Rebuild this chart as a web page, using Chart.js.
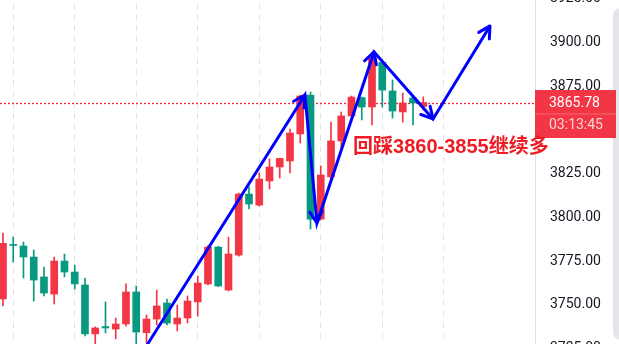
<!DOCTYPE html>
<html>
<head>
<meta charset="utf-8">
<title>Candles</title>
<style>
  html, body { margin: 0; padding: 0; background: #fff; overflow: hidden; }
  #wrap { position: absolute; left: 0; top: -30px; width: 619px; height: 404px; }
</style>
</head>
<body>
<div id="wrap"><canvas id="kChart"></canvas></div>
<script src="https://cdn.jsdelivr.net/npm/chart.js@4.4.1/dist/chart.umd.min.js"></script>
<script>
// OHLC, one entry per candle
const opens  = [3753.4, 3784.6, 3783.7, 3777.4, 3766.0, 3756.2, 3775.1, 3768.8, 3761.4, 3733.4,
                3737.6, 3736.2, 3739.1, 3757.4, 3734.1, 3741.9, 3751.1, 3739.1, 3742.5, 3751.7,
                3762.0, 3783.1, 3758.5, 3778.5, 3813.4, 3807.1, 3820.9, 3828.9, 3832.3, 3847.8,
                3870.1, 3799.1, 3823.2, 3843.8, 3858.1, 3868.6, 3863.2, 3888.7, 3872.4, 3860.4,
                3868.4, 3863.5];
const highs  = [3791.1, 3788.8, 3786.0, 3781.4, 3771.7, 3777.4, 3779.1, 3772.8, 3765.4, 3737.4,
                3751.7, 3742.5, 3762.0, 3760.8, 3744.2, 3758.5, 3753.4, 3749.9, 3755.1, 3766.5,
                3784.0, 3783.5, 3788.8, 3814.0, 3817.4, 3825.5, 3833.5, 3834.0, 3850.6, 3870.1,
                3871.8, 3829.5, 3854.6, 3860.4, 3869.5, 3868.9, 3894.7, 3889.0, 3878.7, 3871.2,
                3868.9, 3869.0];
const lows   = [3749.4, 3774.5, 3765.4, 3752.2, 3755.1, 3750.5, 3766.0, 3759.1, 3732.2, 3726.0,
                3733.9, 3730.5, 3737.9, 3726.5, 3728.2, 3738.5, 3738.5, 3735.1, 3739.6, 3743.6,
                3761.5, 3760.5, 3758.0, 3777.9, 3804.9, 3806.5, 3816.3, 3822.6, 3825.5, 3842.6,
                3793.4, 3798.5, 3822.0, 3839.8, 3857.5, 3855.8, 3852.9, 3863.2, 3856.9, 3854.6,
                3852.9, 3861.5];
const closes = [3785.2, 3784.0, 3777.4, 3764.2, 3756.8, 3775.1, 3768.8, 3762.0, 3733.4, 3736.8,
                3736.8, 3739.1, 3757.4, 3734.5, 3741.9, 3749.4, 3739.6, 3742.5, 3752.2, 3762.5,
                3783.1, 3760.8, 3779.1, 3813.4, 3807.7, 3822.0, 3828.9, 3833.8, 3848.3, 3869.5,
                3799.1, 3824.3, 3843.8, 3858.1, 3868.9, 3863.2, 3891.2, 3872.9, 3860.9, 3865.5,
                3865.5, 3865.78];

const priceTicks = [3725, 3750, 3775, 3800, 3825, 3850, 3875, 3900, 3925];
const gridIdx = [4, 10, 16, 22, 28, 34, 40];
const lastPrice = 3865.78;
const countdown = '03:13:45';

// hand drawn zigzag arrow (candle index, price)
const arrowX = [13.13, 29.46, 30.63, 36.2, 41.95, 47.51];
const arrowY = [3718.5, 3870.1, 3796.9, 3894.7, 3856.4, 3909.6];

const noteText = '回踩3860-3855继续多';
const noteAt = { x: 34.15, y: 3840.3 };

const UP = '#f23645';
const DOWN = '#089981';

const candleColors = opens.map((o, i) => closes[i] >= o ? UP : DOWN);

const overlay = {
    id: 'overlay',
    beforeDatasetsDraw(chart) {
        const { ctx, chartArea, scales } = chart;
        const py = Math.round(scales.y.getPixelForValue(lastPrice)) + 0.5;
        ctx.save();
        ctx.strokeStyle = '#f7253a';
        ctx.lineWidth = 1.3;
        ctx.setLineDash([2, 2]);
        ctx.beginPath();
        ctx.moveTo(chartArea.left, py);
        ctx.lineTo(chartArea.right, py);
        ctx.stroke();
        ctx.restore();
    },
    afterDatasetsDraw(chart) {
        // open arrow heads at every vertex of the zigzag
        const { ctx } = chart;
        const pts = chart.getDatasetMeta(0).data;
        ctx.save();
        ctx.strokeStyle = '#0000ff';
        ctx.lineWidth = 3;
        ctx.lineCap = 'round';
        ctx.lineJoin = 'round';
        for (let k = 1; k < pts.length; k++) {
            const a = pts[k - 1], b = pts[k];
            const ang = Math.atan2(b.y - a.y, b.x - a.x);
            const len = 13, spread = 0.5;
            ctx.beginPath();
            ctx.moveTo(b.x - len * Math.cos(ang - spread), b.y - len * Math.sin(ang - spread));
            ctx.lineTo(b.x, b.y);
            ctx.lineTo(b.x - len * Math.cos(ang + spread), b.y - len * Math.sin(ang + spread));
            ctx.stroke();
        }
        ctx.restore();
    },
    afterDraw(chart) {
        const { ctx, chartArea, scales } = chart;
        const py = scales.y.getPixelForValue(lastPrice);
        const left = chartArea.right;
        ctx.save();

        // grey edge of the panel
        ctx.fillStyle = '#e4e5eb';
        ctx.beginPath();
        if (ctx.roundRect) ctx.roundRect(613, 38, 20, 332, 8); else ctx.rect(613, 38, 20, 332);
        ctx.fill();

        // last price label
        ctx.fillStyle = UP;
        ctx.fillRect(left, py - 12.5, 81, 48);
        ctx.fillStyle = 'rgba(255,255,255,0.25)';
        ctx.fillRect(left, py + 11, 81, 1);
        ctx.font = '14px Roboto';
        ctx.textBaseline = 'middle';
        ctx.textAlign = 'left';
        ctx.fillStyle = '#ffffff';
        ctx.fillText(lastPrice.toFixed(2), left + 14, py + 1);
        ctx.fillStyle = 'rgba(255,255,255,0.78)';
        ctx.fillText(countdown, left + 14, py + 23);

        // note
        ctx.font = 'bold 20px "Liberation Sans", "Noto Sans CJK SC", sans-serif';
        ctx.fillStyle = '#ee1c24';
        ctx.fillText(noteText, scales.x.getPixelForValue(noteAt.x), scales.y.getPixelForValue(noteAt.y));
        ctx.restore();
    }
};

const ctx = document.getElementById('kChart').getContext('2d');
new Chart(ctx, {
    type: 'bar',
    data: {
        datasets: [
            {
                type: 'line',
                data: arrowX.map((x, i) => ({ x: x, y: arrowY[i] })),
                borderColor: '#0000ff',
                borderWidth: 3,
                pointRadius: 0,
                tension: 0,
                fill: false,
                order: 0
            },
            {
                data: opens.map((o, i) => ({ x: i, y: [o, closes[i]] })),
                backgroundColor: candleColors,
                barThickness: 7,
                minBarLength: 1,
                grouped: false,
                order: 1
            },
            {
                data: lows.map((l, i) => ({ x: i, y: [l, highs[i]] })),
                backgroundColor: candleColors,
                barThickness: 1,
                grouped: false,
                order: 2
            }
        ]
    },
    options: {
        responsive: true,
        maintainAspectRatio: false,
        animation: false,
        layout: { padding: 0, autoPadding: false },
        plugins: { legend: { display: false }, tooltip: { enabled: false } },
        scales: {
            x: {
                type: 'linear',
                min: -0.29,
                max: 51.9,
                offset: false,
                afterBuildTicks: s => { s.ticks = gridIdx.map(v => ({ value: v })); },
                afterFit: s => { s.height = 0; s.paddingLeft = 0; s.paddingRight = 0; },
                grid: { color: '#e0e3eb', drawTicks: false },
                border: { display: false, dash: [6, 5] },
                ticks: { display: false }
            },
            y: {
                position: 'right',
                min: 3710.47,
                max: 3941.59,
                afterBuildTicks: s => { s.ticks = priceTicks.map(v => ({ value: v })); },
                afterFit: s => { s.width = 84; s.paddingTop = 0; s.paddingBottom = 0; },
                grid: { display: false, drawTicks: false },
                border: { display: true, color: '#e0e3eb', width: 1 },
                ticks: {
                    padding: 15,
                    color: '#131722',
                    font: { family: 'Roboto', size: 14 },
                    callback: v => Number(v).toFixed(2)
                }
            }
        }
    },
    plugins: [overlay]
});
</script>
</body>
</html>
